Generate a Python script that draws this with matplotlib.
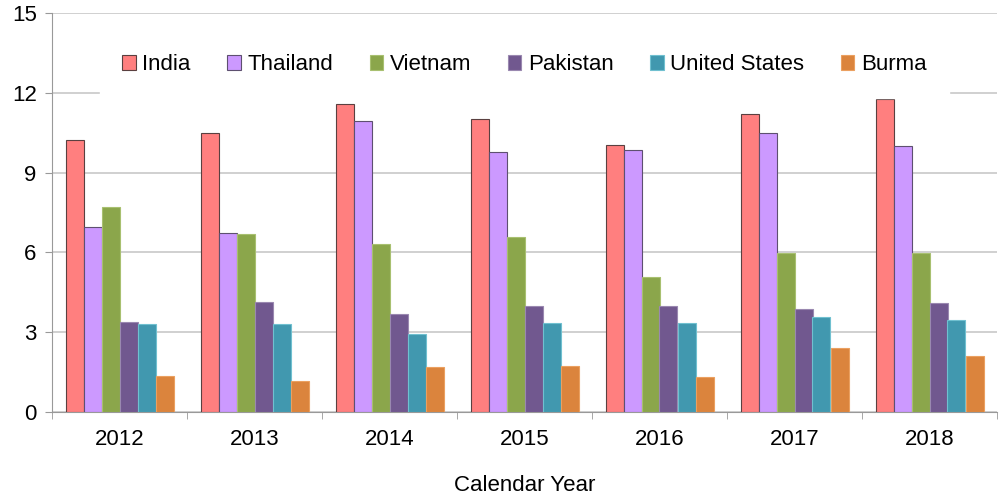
import numpy as np
import matplotlib.pyplot as plt

years = ["2012", "2013", "2014", "2015", "2016", "2017", "2018"]
india = [10.23, 10.5, 11.58, 11.0, 10.03, 11.2, 11.77]
thailand = [6.95, 6.72, 10.94, 9.77, 9.86, 10.5, 10.0]
vietnam = [7.7, 6.7, 6.32, 6.58, 5.08, 5.98, 5.98]
pakistan = [3.38, 4.13, 3.68, 3.98, 3.98, 3.87, 4.1]
united_states = [3.3, 3.3, 2.93, 3.35, 3.35, 3.57, 3.46]
burma = [1.35, 1.17, 1.69, 1.73, 1.3, 2.4, 2.1]

series = [
    ("India", india, "#FF7F7F", "#5A4040"),
    ("Thailand", thailand, "#CC99FF", "#5E5070"),
    ("Vietnam", vietnam, "#8BA64B", "#A8C070"),
    ("Pakistan", pakistan, "#71588F", "#9A88B0"),
    ("United States", united_states, "#4198AF", "#70C0D0"),
    ("Burma", burma, "#DB843D", "#EBA060"),
]

plt.rcParams["font.family"] = ["Liberation Sans", "DejaVu Sans"]
fig = plt.figure(figsize=(10, 4.97), dpi=100)
ax = fig.add_axes([0.052, 0.171, 0.945, 0.803])

x = np.arange(len(years))
width = 0.8 / 6
for i, (name, vals, color, edge) in enumerate(series):
    ax.bar(x - 0.4 + width * (i + 0.5), vals, width, color=color,
           edgecolor=edge, linewidth=0.8, label=name, zorder=3)

ax.set_xlim(-0.5, len(years) - 0.5)
ax.set_ylim(0, 15)
ax.set_yticks([0, 3, 6, 9, 12, 15])
ax.set_xticks(x)
ax.set_xticklabels(years)
ax.set_xticks(np.arange(len(years) + 1) - 0.5, minor=True)
ax.tick_params(axis="x", which="major", length=0, labelsize=16, pad=12)
ax.tick_params(axis="x", which="minor", length=5, color="#999999")
ax.tick_params(axis="y", length=5, color="#999999", labelsize=16, pad=6)
ax.grid(axis="y", color="#C8C8C8", linewidth=1.2, zorder=0)
for s in ["top", "right"]:
    ax.spines[s].set_visible(False)
for s in ["left", "bottom"]:
    ax.spines[s].set_color("#999999")
ax.set_xlabel("Calendar Year", fontsize=16, labelpad=18)

leg = ax.legend(loc="center", bbox_to_anchor=(0.5, 0.87), ncol=6,
                fontsize=16, frameon=True, handlelength=0.6, handleheight=0.6,
                handletextpad=0.3, columnspacing=1.65, borderpad=1.0)
leg.get_frame().set_edgecolor("white")
leg.get_frame().set_facecolor("white")
leg.get_frame().set_alpha(1)
leg.get_frame().set_boxstyle("square", pad=0)
leg.set_zorder(5)

fig.savefig("out.png", dpi=100)
